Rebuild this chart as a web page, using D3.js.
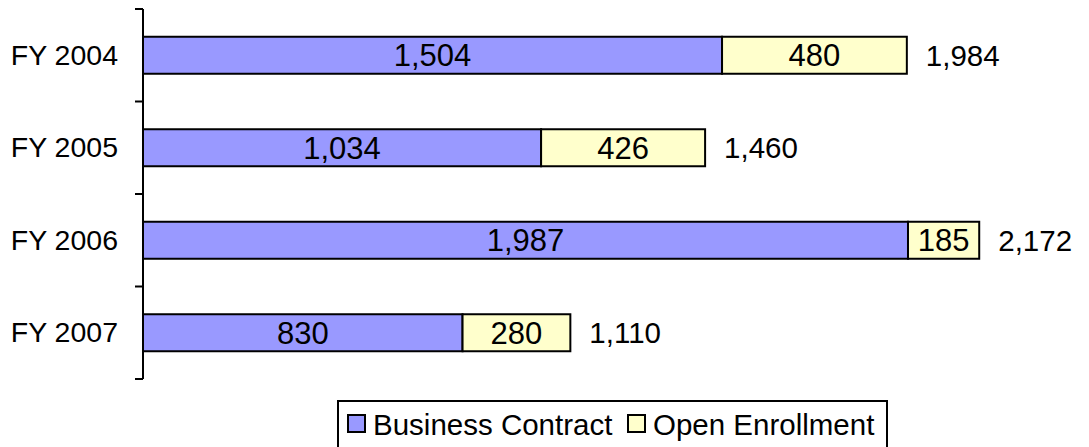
<!DOCTYPE html>
<html>
<head>
<meta charset="utf-8">
<script src="https://cdn.jsdelivr.net/npm/d3@7"></script>
<style>
  body{margin:0;background:#fff;}
  text{font-family:"Liberation Sans",Arial,sans-serif;fill:#000;}
</style>
</head>
<body>
<div id="chart"></div>
<script>
// datos
var years=["FY 2004","FY 2005","FY 2006","FY 2007"];
var business=[1504,1034,1987,830];
var openEnroll=[480,426,185,280];
var seriesNames=["Business Contract","Open Enrollment"];
var colors=["#9999ff","#ffffcc"];

chart();

function chart(){
	var W=1089,H=447;
	var svg=d3.select("#chart").append("svg")
		.attr("width",W).attr("height",H)

	var x0=143;
	var escalaX=d3.scaleLinear().domain([0,2500]).range([x0,x0+962.5])
	var escalaY=d3.scaleBand().domain(years).range([9,379])
		.paddingInner(0.6).paddingOuter(0.3)

	var fmt=d3.format(",");
	var data=years.map(function(y,i){
		return {year:y,b:business[i],o:openEnroll[i],t:business[i]+openEnroll[i]}
	})

	// barras
	var g=svg.selectAll(".fila").data(data).enter().append("g")

	g.append("rect")
		.attr("x",escalaX(0))
		.attr("y",d=>escalaY(d.year))
		.attr("width",d=>escalaX(d.b)-escalaX(0))
		.attr("height",escalaY.bandwidth())
		.style("fill",colors[0]).style("stroke","#000").style("stroke-width",2)

	g.append("rect")
		.attr("x",d=>escalaX(d.b))
		.attr("y",d=>escalaY(d.year))
		.attr("width",d=>escalaX(d.t)-escalaX(d.b))
		.attr("height",escalaY.bandwidth())
		.style("fill",colors[1]).style("stroke","#000").style("stroke-width",2)

	var mid=d=>escalaY(d.year)+escalaY.bandwidth()/2;

	g.append("text")
		.attr("x",d=>(escalaX(0)+escalaX(d.b))/2)
		.attr("y",mid).attr("dy","0.36em")
		.attr("text-anchor","middle").style("font-size","31px")
		.text(d=>fmt(d.b))

	g.append("text")
		.attr("x",d=>(escalaX(d.b)+escalaX(d.t))/2)
		.attr("y",mid).attr("dy","0.36em")
		.attr("text-anchor","middle").style("font-size","31px")
		.text(d=>fmt(d.o))

	g.append("text")
		.attr("x",d=>escalaX(d.t)+19)
		.attr("y",mid).attr("dy","0.36em")
		.style("font-size","29.5px")
		.text(d=>fmt(d.t))

	// eje Y
	var ejeY=svg.append("g").attr("transform","translate("+x0+",0)")
	ejeY.append("line").attr("x1",0).attr("x2",0).attr("y1",9).attr("y2",379)
		.style("stroke","#000").style("stroke-width",2)
	var ticks=d3.range(years.length+1).map(i=>9+i*escalaY.step())
	ejeY.selectAll(".tick").data(ticks).enter().append("line")
		.attr("x1",-8).attr("x2",0).attr("y1",d=>d).attr("y2",d=>d)
		.style("stroke","#000").style("stroke-width",2)
	ejeY.selectAll(".lab").data(years).enter().append("text")
		.attr("x",-25).attr("y",d=>escalaY(d)+escalaY.bandwidth()/2).attr("dy","0.34em")
		.attr("text-anchor","end").style("font-size","28.5px")
		.text(d=>d)

	// leyenda
	var ley=svg.append("g")
	ley.append("rect").attr("x",338).attr("y",401).attr("width",549).attr("height",60)
		.style("fill","#fff").style("stroke","#000").style("stroke-width",2)
	var itemX=[348,628];
	seriesNames.forEach(function(n,i){
		ley.append("rect").attr("x",itemX[i]).attr("y",415).attr("width",17).attr("height",17)
			.style("fill",colors[i]).style("stroke","#000").style("stroke-width",2)
		ley.append("text").attr("x",itemX[i]+25).attr("y",424).attr("dy","0.36em")
			.style("font-size","29.5px").text(n)
	})
}
</script>
</body>
</html>
